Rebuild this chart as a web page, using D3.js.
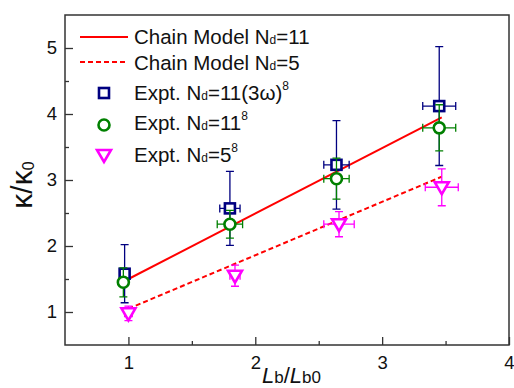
<!DOCTYPE html>
<html>
<head>
<meta charset="utf-8">
<script src="https://cdn.jsdelivr.net/npm/d3@7"></script>
<style>
  body { margin: 0; background: #fff; }
  text { font-family: "Liberation Sans", Arial, sans-serif; }
</style>
</head>
<body>
<svg id="chart" width="514" height="388"></svg>
<script>
// --------------------
//  data
// --------------------
// Expt. Nd=11(3ω)
const sqX = [0.97, 1.80, 2.64, 3.45];
const sqY = [1.58, 2.57, 3.23, 4.12];
const sqYErr = [0.44, 0.56, 0.67, 0.90];
const sqXErr = [0.03, 0.08, 0.10, 0.13];
// Expt. Nd=11
const ciX = [0.96, 1.80, 2.64, 3.45];
const ciY = [1.45, 2.33, 3.02, 3.79];
const ciYErr = [0.22, 0.21, 0.31, 0.35];
const ciXErr = [0.03, 0.10, 0.10, 0.13];
// Expt. Nd=5
const trX = [1.00, 1.84, 2.66, 3.47];
const trY = [0.98, 1.55, 2.33, 2.89];
const trYErr = [0.11, 0.16, 0.19, 0.28];
const trXErr = [0.03, 0.04, 0.12, 0.13];
// Chain model lines
const modelX = [1.0, 3.47];
const chain11 = [1.5, 3.95];
const chain5 = [1.05, 3.05];

const xTicks = [1, 2, 3, 4];
const yTicks = [1, 2, 3, 4, 5];

// --------------------
//  setup
// --------------------
const svg = d3.select("#chart");
const x = d3.scaleLinear().domain([0.5, 4]).range([65, 509]);
const y = d3.scaleLinear().domain([0.5, 5.5]).range([345, 15]);

const navy = "#000080", green = "#008000", magenta = "#ff00ff", red = "#ff0000";

// 枠
svg.append("rect")
    .attr("x", x(0.5)).attr("y", y(5.5))
    .attr("width", x(4) - x(0.5)).attr("height", y(0.5) - y(5.5))
    .attr("fill", "none").attr("stroke", "#333").attr("stroke-width", 1.5);

// axes (ticks inward)
const xAxis = d3.axisBottom(x).tickValues(xTicks).tickSize(-8).tickPadding(11).tickFormat(d3.format("d"));
const xMinor = d3.axisBottom(x).tickValues([1.5, 2.5, 3.5]).tickSize(-4).tickFormat("");
const yAxis = d3.axisLeft(y).tickValues(yTicks).tickSize(-8).tickPadding(8).tickFormat(d3.format("d"));
const yMinor = d3.axisLeft(y).tickValues([1.5, 2.5, 3.5, 4.5]).tickSize(-4).tickFormat("");

function styleAxis(g) {
    g.select(".domain").remove();
    g.selectAll("line").attr("stroke", "#333").attr("stroke-width", 1.3);
    g.selectAll("text").attr("font-size", "18.5px").attr("fill", "#111")
        .attr("font-family", "Liberation Sans, Arial, sans-serif");
}
svg.append("g").attr("transform", `translate(0,${y(0.5)})`).call(xAxis).call(styleAxis);
svg.append("g").attr("transform", `translate(0,${y(0.5)})`).call(xMinor).call(styleAxis);
svg.append("g").attr("transform", `translate(${x(0.5)},0)`).call(yAxis).call(styleAxis);
svg.append("g").attr("transform", `translate(${x(0.5)},0)`).call(yMinor).call(styleAxis);

// model lines
const line = d3.line().x(d => x(d[0])).y(d => y(d[1]));
svg.append("path").datum(d3.zip(modelX, chain11)).attr("d", line)
    .attr("fill", "none").attr("stroke", red).attr("stroke-width", 2);
svg.append("path").datum(d3.zip(modelX, chain5)).attr("d", line)
    .attr("fill", "none").attr("stroke", red).attr("stroke-width", 2).attr("stroke-dasharray", "5,3");

// error bars + markers
function drawSeries(xs, ys, xe, ye, color, symbolFn) {
    const data = xs.map((v, i) => ({x: v, y: ys[i], xe: xe[i], ye: ye[i]}));
    const g = svg.append("g").attr("stroke", color).attr("stroke-width", 1.3).attr("fill", "none");
    const cap = 4;
    data.forEach(d => {
        const cx = x(d.x), cy = y(d.y);
        const y0 = y(d.y - d.ye), y1 = y(d.y + d.ye);
        const x0 = x(d.x - d.xe), x1 = x(d.x + d.xe);
        g.append("path").attr("d",
            `M${cx},${y0}V${y1}M${cx - cap},${y0}H${cx + cap}M${cx - cap},${y1}H${cx + cap}` +
            `M${x0},${cy}H${x1}M${x0},${cy - cap}V${cy + cap}M${x1},${cy - cap}V${cy + cap}`);
    });
    data.forEach(d => symbolFn(svg, x(d.x), y(d.y)));
}

function squareAt(g, cx, cy) {
    g.append("rect").attr("x", cx - 5).attr("y", cy - 5).attr("width", 10).attr("height", 10)
        .attr("fill", "#fff").attr("stroke", navy).attr("stroke-width", 2.6);
}
function circleAt(g, cx, cy) {
    g.append("circle").attr("cx", cx).attr("cy", cy).attr("r", 5.5)
        .attr("fill", "#fff").attr("stroke", green).attr("stroke-width", 2.6);
}
function triangleAt(g, cx, cy) {
    g.append("path").attr("d", `M${cx - 7},${cy - 5}H${cx + 7}L${cx},${cy + 7}Z`)
        .attr("fill", "#fff").attr("stroke", magenta).attr("stroke-width", 2.6)
        .attr("stroke-linejoin", "miter");
}

drawSeries(sqX, sqY, sqXErr, sqYErr, navy, squareAt);
drawSeries(ciX, ciY, ciXErr, ciYErr, green, circleAt);
drawSeries(trX, trY, trXErr, trYErr, magenta, triangleAt);

// --------------------
//  legend
// --------------------
const legFont = 20.5;
function legendText(yb, parts) {
    const t = svg.append("text").attr("x", 134).attr("y", yb).attr("font-size", legFont + "px").attr("fill", "#111");
    parts.forEach(p => {
        const s = t.append("tspan").text(p.t);
        if (p.small) s.attr("font-size", "12px");
        if (p.sup) s.attr("font-size", "12px").attr("dy", "-10");
    });
}
svg.append("line").attr("x1", 80).attr("x2", 128).attr("y1", 37).attr("y2", 37)
    .attr("stroke", red).attr("stroke-width", 2);
svg.append("line").attr("x1", 80).attr("x2", 128).attr("y1", 62).attr("y2", 62)
    .attr("stroke", red).attr("stroke-width", 2).attr("stroke-dasharray", "5,3");
legendText(44, [{t: "Chain Model N"}, {t: "d", small: true}, {t: "=11"}]);
legendText(70, [{t: "Chain Model N"}, {t: "d", small: true}, {t: "=5"}]);
squareAt(svg, 104, 93);
circleAt(svg, 104, 125);
triangleAt(svg, 104, 155);
legendText(100, [{t: "Expt. N"}, {t: "d", small: true}, {t: "=11(3ω)"}, {t: "8", sup: true}]);
legendText(130, [{t: "Expt. N"}, {t: "d", small: true}, {t: "=11"}, {t: "8", sup: true}]);
legendText(162, [{t: "Expt. N"}, {t: "d", small: true}, {t: "=5"}, {t: "8", sup: true}]);

// axis titles
const xt = svg.append("text").attr("x", 262).attr("y", 383).attr("font-size", "22px").attr("fill", "#111");
xt.append("tspan").text("L").attr("font-style", "italic");
xt.append("tspan").text("b").attr("font-size", "17px");
xt.append("tspan").text("/");
xt.append("tspan").text("L").attr("font-style", "italic");
xt.append("tspan").text("b0").attr("font-size", "17px");

const yt = svg.append("text").attr("transform", "translate(32,185) rotate(-90)")
    .attr("text-anchor", "middle").attr("font-size", "30px").attr("fill", "#111");
yt.append("tspan").text("κ/κ");
yt.append("tspan").text("0").attr("font-size", "16px").attr("dy", "2");
</script>
</body>
</html>
